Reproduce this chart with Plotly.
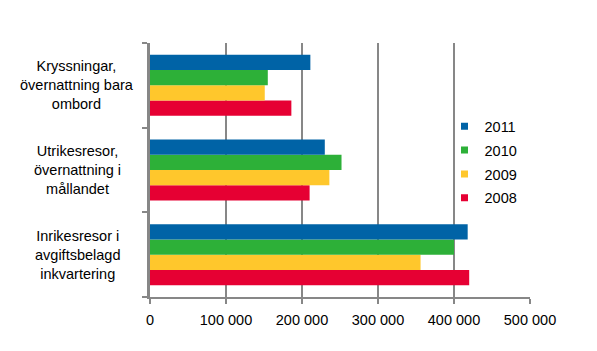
import plotly.graph_objects as go

categories = ["Inrikesresor i avgiftsbelagd inkvartering",
              "Utrikesresor, övernattning i mållandet",
              "Kryssningar, övernattning bara ombord"]
category_labels = ["Inrikesresor i<br>avgiftsbelagd<br>inkvartering",
                   "Utrikesresor,<br>övernattning i<br>mållandet",
                   "Kryssningar,<br>övernattning bara<br>ombord"]
years = ["2008", "2009", "2010", "2011"]
values_2008 = [420000, 210000, 186000]
values_2009 = [356000, 236000, 151000]
values_2010 = [400000, 252000, 155000]
values_2011 = [418000, 230000, 211000]
series = [values_2008, values_2009, values_2010, values_2011]
colors = ["#E60033", "#FFC72C", "#2DB038", "#0063A6"]
tick_vals = [0, 100000, 200000, 300000, 400000, 500000]
tick_text = ["0", "100 000", "200 000", "300 000", "400 000", "500 000"]

font_family = "Liberation Sans, Arial, sans-serif"
fs = 14.5

fig = go.Figure()
for yr, vals, col in zip(years, series, colors):
    fig.add_trace(go.Bar(x=vals, y=categories, orientation="h", name=yr,
                         marker=dict(color=col, line=dict(width=0)),
                         showlegend=False))
for yr, col in reversed(list(zip(years, colors))):
    fig.add_trace(go.Scatter(x=[None], y=[None], mode="markers", name=yr,
                             legendgroup=yr,
                             marker=dict(symbol="square", size=7, color=col)))

for cat, lab in zip(categories, category_labels):
    fig.add_annotation(x=-0.192, xref="paper", y=cat, yref="y", text=lab,
                       showarrow=False, xanchor="center", yanchor="middle",
                       align="center", font=dict(size=fs, color="#000000", family=font_family))

fig.update_layout(
    width=597, height=351,
    margin=dict(l=150, r=67, t=43, b=54),
    paper_bgcolor="white", plot_bgcolor="white",
    barmode="group", bargap=0.28, bargroupgap=0,
    font=dict(family=font_family, size=fs, color="#000000"),
    legend=dict(x=0.775, y=0.735, xanchor="left", yanchor="top",
                traceorder="grouped", tracegroupgap=2,
                bgcolor="rgba(0,0,0,0)", font=dict(size=fs)),
    xaxis=dict(range=[0, 500000], tickvals=tick_vals, ticktext=tick_text,
               showgrid=True, gridcolor="#878787", gridwidth=2,
               showline=True, linecolor="#878787", linewidth=2,
               ticks="outside", ticklen=5, tickwidth=2, tickcolor="#878787",
               ticklabelstandoff=4,
               zeroline=False, fixedrange=True),
    yaxis=dict(type="category", categoryorder="array", categoryarray=categories,
               showticklabels=False, showgrid=False,
               showline=True, linecolor="#878787", linewidth=3,
               ticks="outside", tickson="boundaries", ticklen=5, tickwidth=2,
               tickcolor="#878787", zeroline=False),
)

fig.write_html("out.html")
